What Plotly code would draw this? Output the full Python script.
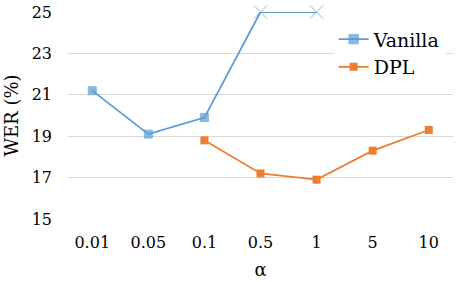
import plotly.graph_objects as go

alpha = ["0.01", "0.05", "0.1", "0.5", "1", "5", "10"]
vanilla = [21.2, 19.1, 19.9, 25.0, 25.0, None, None]
vanilla_symbols = ["square", "square", "square", "x-thin", "x-thin", "square", "square"]
dpl = [None, None, 18.8, 17.2, 16.9, 18.3, 19.3]
y_ticks = [15, 17, 19, 21, 23, 25]

BLUE = "#5B9BD5"
ORANGE = "#ED7D31"
FONT = "DejaVu Serif"

fig = go.Figure()
fig.add_trace(go.Scatter(
    x=alpha, y=vanilla, name="Vanilla", mode="lines+markers",
    line=dict(color=BLUE, width=1.8),
    marker=dict(symbol=vanilla_symbols, size=[8, 8, 8, 13, 13, 8, 8], color=BLUE,
                line=dict(color=BLUE, width=1)),
    cliponaxis=False,
))
fig.add_trace(go.Scatter(
    x=alpha, y=dpl, name="DPL", mode="lines+markers",
    line=dict(color=ORANGE, width=1.8),
    marker=dict(symbol="square", size=8, color=ORANGE),
    cliponaxis=False,
))

fig.update_layout(
    width=457, height=282,
    margin=dict(l=68, r=4, t=12, b=63, autoexpand=False),
    paper_bgcolor="white", plot_bgcolor="white",
    font=dict(family=FONT, size=16, color="#000000"),
    showlegend=True,
    legend=dict(x=0.69, y=0.96, xanchor="left", yanchor="top",
                bgcolor="white", font=dict(size=19, family=FONT),
                tracegroupgap=0, itemwidth=30),
    xaxis=dict(type="category", categoryorder="array", categoryarray=alpha,
               showgrid=False, showline=False, zeroline=False, automargin=False,
               ticks="", tickfont=dict(size=16, family=FONT), ticklabelstandoff=12,
               title=dict(text="α", font=dict(size=18, family=FONT), standoff=12)),
    yaxis=dict(range=[15, 25], tickvals=y_ticks, showgrid=True, automargin=False,
               gridcolor="#D9D9D9", gridwidth=1, zeroline=False, showline=False,
               ticks="", tickfont=dict(size=16, family=FONT), ticklabelstandoff=15,
               ticklabeloverflow="allow",
               title=dict(text="WER (%)", font=dict(size=18, family=FONT), standoff=8)),
)

fig.write_html("out.html", config={"displayModeBar": False},
               post_script="document.body.style.margin='0';")
